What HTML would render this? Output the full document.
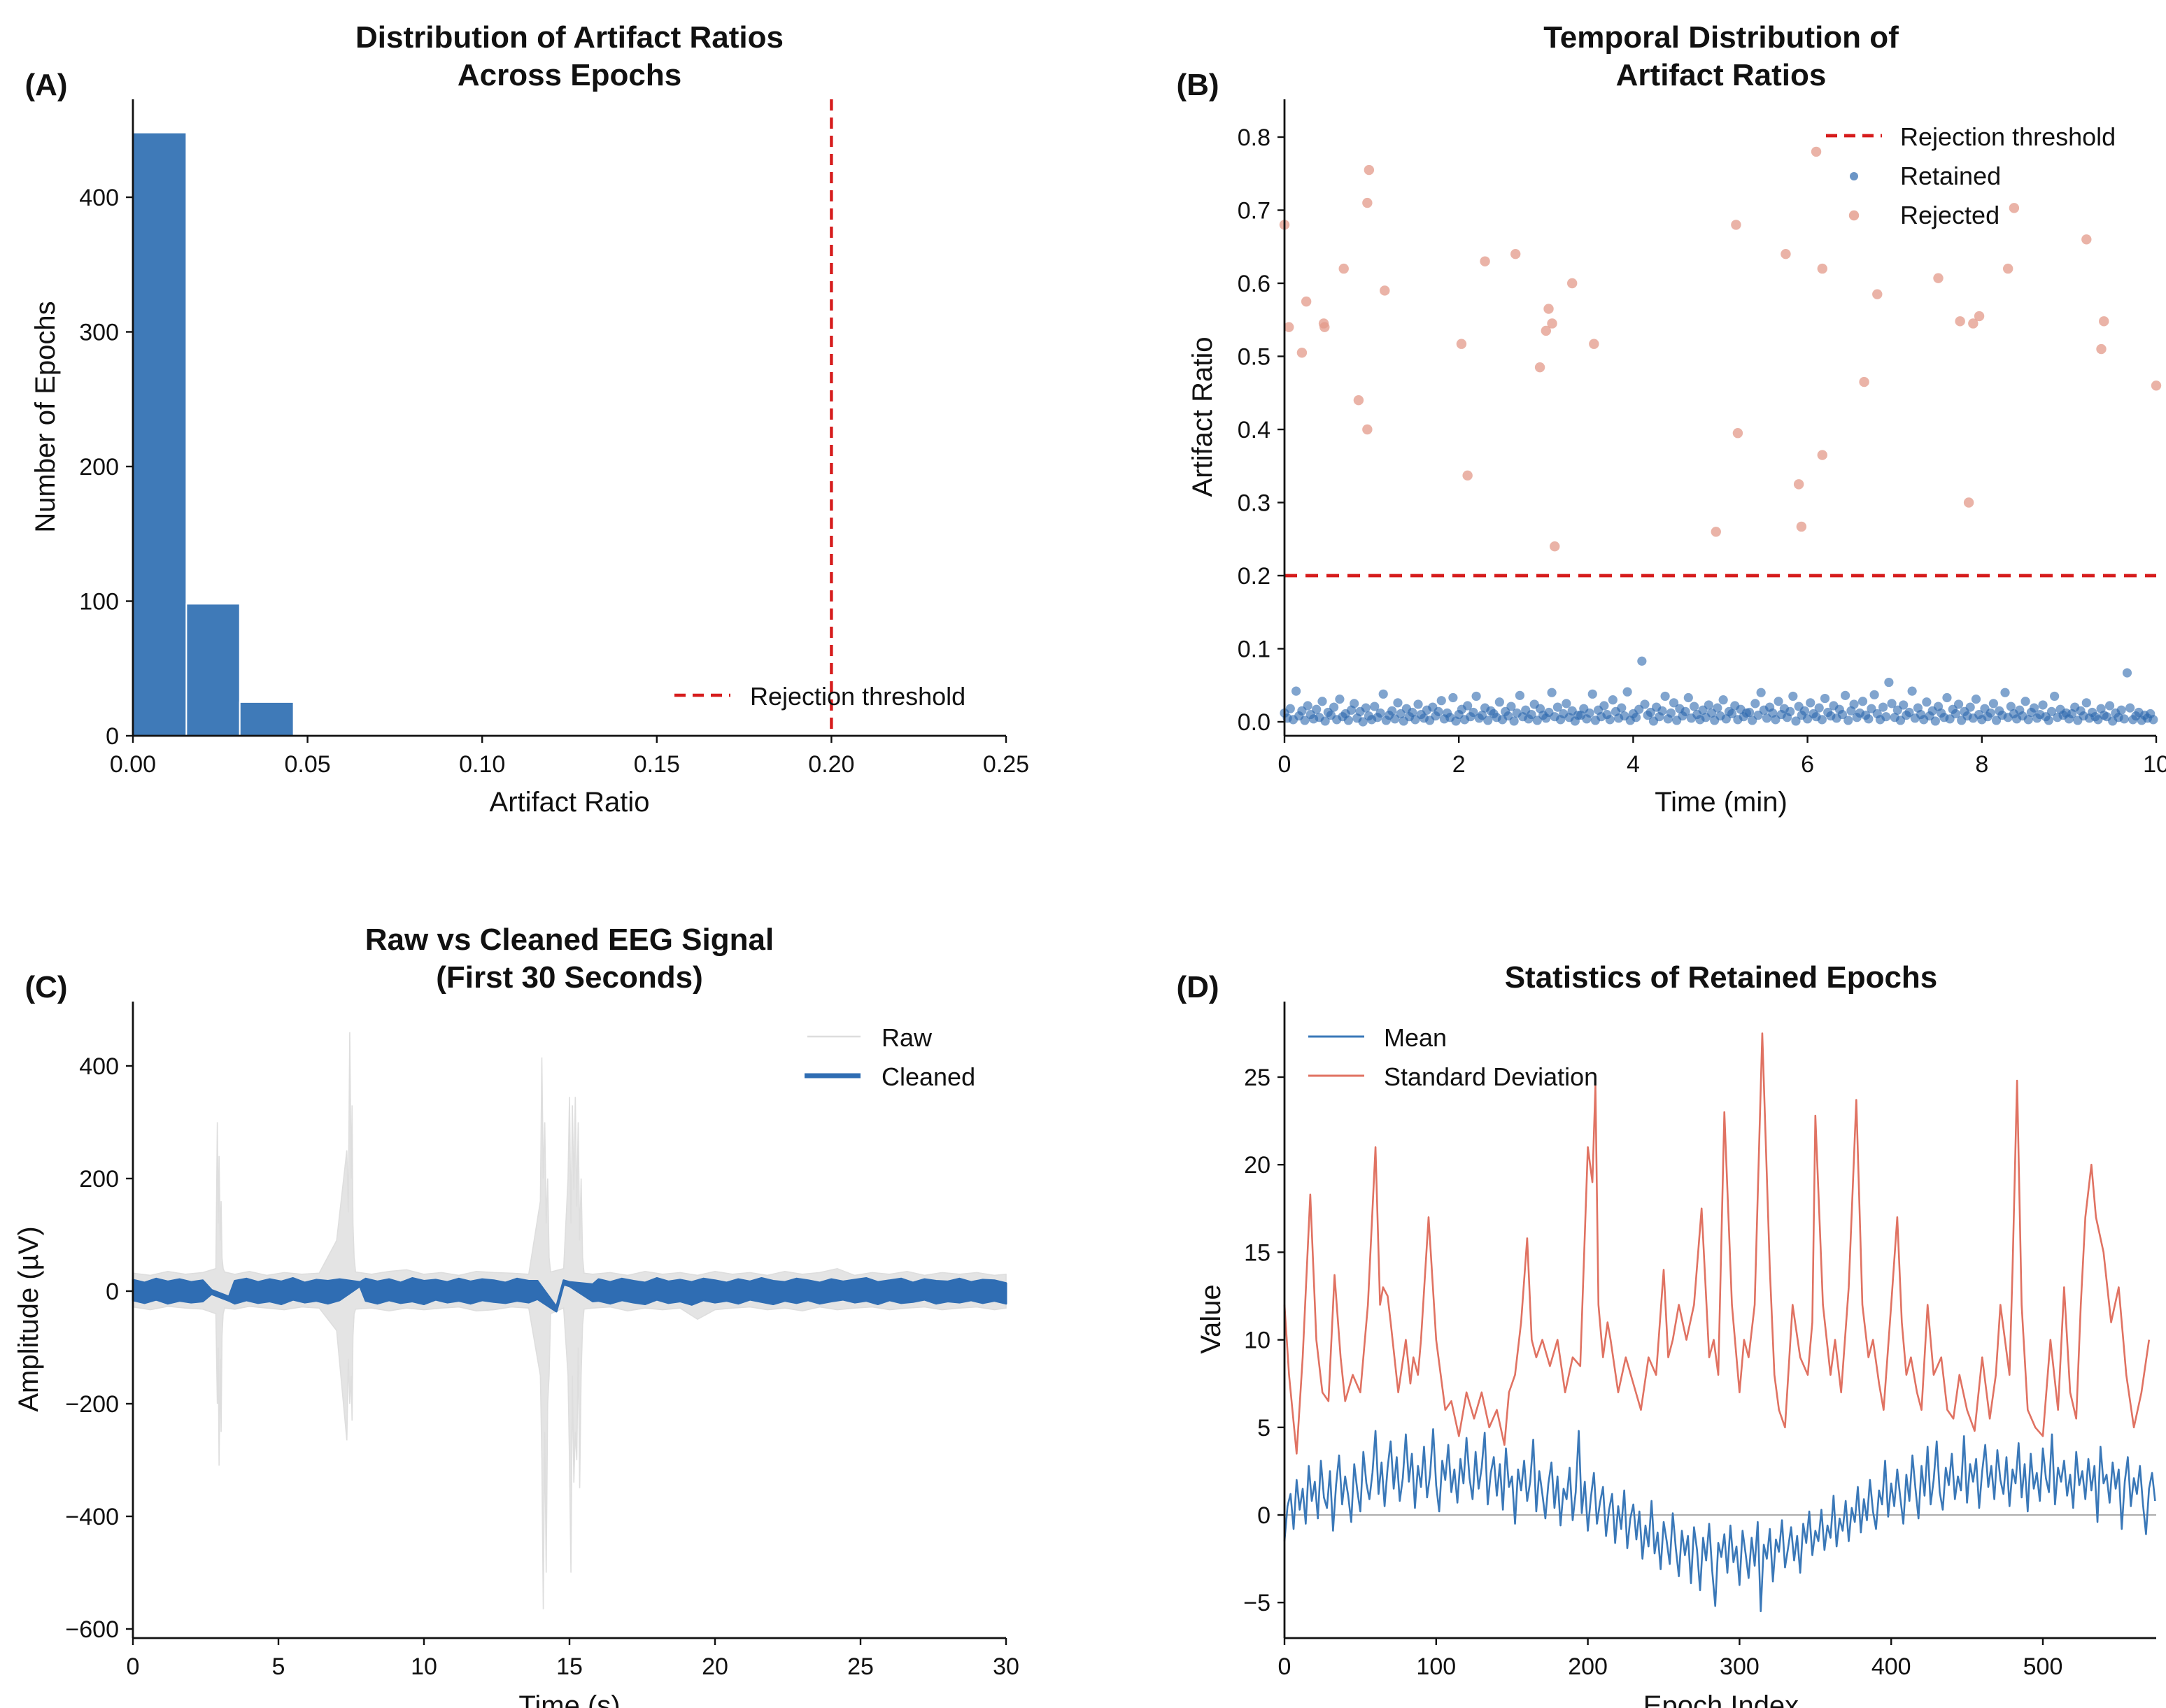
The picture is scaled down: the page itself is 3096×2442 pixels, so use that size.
<!DOCTYPE html>
<html><head><meta charset="utf-8"><style>
html,body{margin:0;padding:0;background:#fff}
svg{display:block}
text{font-family:"Liberation Sans","DejaVu Sans",sans-serif;fill:#111}
</style></head><body>
<svg id="fig" width="3096" height="2442" viewBox="0 0 1548 1221" xmlns="http://www.w3.org/2000/svg"></svg>
<script>
// ---------- Panel A data ----------
const histEdges = [0, 0.0153, 0.0306, 0.046];
const histCounts = [448, 98, 25];
const aXTicks = [0, 0.05, 0.10, 0.15, 0.20, 0.25];
const aXTickLabels = ["0.00","0.05","0.10","0.15","0.20","0.25"];
const aYTicks = [0, 100, 200, 300, 400];
const threshold = 0.2;
// ---------- Panel B data ----------
const retainedVals = [12,5,18,3,42,8,15,2,22,10,4,17,6,28,1,13,9,20,3,31,7,11,2,16,25,5,14,0,19,8,
3,21,6,12,38,2,9,15,4,26,11,1,18,7,13,3,24,10,5,16,2,20,8,14,29,4,12,6,33,1,
10,17,3,22,7,13,35,5,9,19,2,15,11,6,27,3,14,8,21,1,12,36,7,16,4,10,24,2,18,9,
5,13,40,7,20,3,11,25,6,15,1,9,9,18,4,12,38,2,16,7,22,10,3,30,14,5,19,8,41,2,
11,6,17,83,24,9,13,1,20,7,15,35,4,12,26,2,18,8,14,33,5,21,10,3,16,6,23,12,2,19,
8,30,4,14,11,22,3,17,7,12,13,2,25,9,40,16,5,20,12,3,28,10,18,6,14,35,1,21,9,15,
4,26,11,7,19,3,32,13,8,22,5,17,10,36,2,15,24,6,12,28,9,4,18,37,11,3,20,7,54,25,
6,16,2,23,9,13,42,5,19,10,3,27,8,15,1,21,12,6,33,4,17,11,24,2,14,8,20,5,31,10,
3,18,7,12,25,2,15,9,40,6,21,11,4,16,8,28,3,13,19,5,10,23,7,2,14,35,6,17,9,12,
4,11,20,2,15,8,26,5,13,7,3,18,9,7,22,1,12,6,16,4,67,19,3,8,13,2,9,5,11,3];
const retainedStepMin = 2/60;
const rejT = [0.0,0.05,0.2,0.25,0.45,0.46,0.68,0.85,0.95,0.97,0.95,1.15,2.03,2.1,2.3,2.65,2.93,3.0,3.03,3.07,3.1,3.3,3.55,4.95,5.18,5.2,5.75,5.9,5.93,6.1,6.17,6.17,6.65,6.8,7.5,7.75,7.85,7.9,7.97,8.3,8.37,9.2,9.37,9.4,10.0];
const rejR = [0.68,0.54,0.505,0.575,0.545,0.54,0.62,0.44,0.71,0.755,0.40,0.59,0.517,0.337,0.63,0.64,0.485,0.535,0.565,0.545,0.24,0.6,0.517,0.26,0.68,0.395,0.64,0.325,0.267,0.78,0.62,0.365,0.465,0.585,0.607,0.548,0.3,0.545,0.555,0.62,0.703,0.66,0.51,0.548,0.46];
const bXTicks = [0,2,4,6,8,10];
const bYTicks = [0,0.1,0.2,0.3,0.4,0.5,0.6,0.7,0.8];
// ---------- Panel C data ----------
const rawT = [0,0.6,1.2,1.8,2.4,2.85,2.9,2.93,2.96,3.0,3.03,3.06,3.1,3.15,3.5,4,4.6,5.2,5.8,6.4,7.0,7.35,7.4,7.45,7.5,7.53,7.56,7.6,7.65,8.2,8.8,9.4,10,10.6,11.2,11.8,12.4,13,13.6,14.0,14.05,14.1,14.15,14.2,14.25,14.3,14.35,14.8,14.95,15.0,15.05,15.1,15.15,15.2,15.25,15.3,15.35,15.4,15.45,15.5,15.8,16.4,17,17.6,18.2,18.8,19.4,20,20.6,21.2,21.8,22.4,23,23.6,24.2,24.8,25.4,26,26.6,27.2,27.8,28.4,29,29.6,30];
const rawHi = [32,28,35,30,33,40,300,120,240,90,160,60,40,34,30,35,28,33,30,32,90,250,140,460,200,330,120,60,34,30,35,38,30,33,28,35,33,32,30,160,415,200,300,120,200,60,34,40,200,345,120,330,180,345,150,300,90,200,60,32,30,33,28,35,30,33,28,35,30,33,28,35,30,33,40,28,33,30,35,28,33,30,33,28,30];
const rawLo = [-28,-33,-27,-30,-32,-40,-200,-100,-310,-120,-250,-80,-40,-30,-32,-27,-30,-33,-28,-30,-70,-265,-120,-200,-150,-230,-80,-40,-32,-30,-35,-30,-33,-30,-28,-35,-33,-28,-30,-150,-300,-565,-250,-500,-200,-150,-40,-30,-150,-300,-500,-150,-340,-250,-300,-100,-350,-150,-60,-32,-30,-28,-35,-30,-33,-30,-50,-33,-30,-28,-33,-30,-35,-28,-33,-30,-28,-33,-30,-28,-33,-30,-28,-33,-30];
const cT = [0,0.4,0.8,1.2,1.6,2.0,2.4,2.7,3.3,3.5,3.9,4.3,4.7,5.1,5.5,5.9,6.3,6.7,7.1,7.8,8.0,8.4,8.8,9.2,9.6,10,10.4,10.8,11.2,11.6,12,12.4,12.8,13.2,13.6,13.9,14.55,14.8,15.0,15.8,16.0,16.4,16.8,17.2,17.6,18,18.4,18.8,19.2,19.6,20,20.4,20.8,21.2,21.6,22,22.4,22.8,23.2,23.6,24,24.4,24.8,25.2,25.6,26,26.4,26.8,27.2,27.6,28,28.4,28.8,29.2,29.6,30];
const cHi = [20,15,22,17,21,16,19,2,-10,18,22,16,21,17,23,15,20,18,21,16,22,17,21,15,23,18,20,16,22,17,21,19,15,22,18,18,-28,19,16,12,21,16,22,18,15,23,17,20,16,22,19,15,21,17,23,18,16,22,19,15,21,17,20,23,16,19,22,15,21,18,17,22,16,20,19,14];
const cLo = [-16,-21,-15,-22,-17,-20,-18,-5,-17,-22,-16,-21,-18,-23,-15,-20,-17,-22,-16,9,-17,-22,-16,-21,-18,-23,-15,-20,-17,-22,-16,-19,-21,-17,-20,-14,-36,12,9,-18,-17,-22,-16,-20,-23,-15,-21,-18,-24,-16,-20,-17,-22,-15,-19,-23,-17,-21,-16,-22,-18,-15,-20,-17,-23,-16,-21,-19,-15,-22,-18,-20,-16,-21,-17,-22];
const cXTicks = [0,5,10,15,20,25,30];
const cYTicks = [-600,-400,-200,0,200,400];
const cYTickLabels = ["\u2212600","\u2212400","\u2212200","0","200","400"];
// ---------- Panel D data ----------
const meanStep = 2;
const meanVals = [-1.5,0.5,1.2,-0.8,2.0,0.3,1.5,-0.5,2.8,0.8,1.9,-0.2,3.1,1.0,0.4,2.5,-0.9,1.7,3.4,0.6,2.2,1.1,-0.4,2.9,1.4,0.2,3.6,1.8,0.9,
2.4,4.8,1.2,3.0,0.5,2.7,4.2,1.5,3.3,0.8,2.1,4.6,1.9,3.5,0.4,2.8,1.6,3.9,1.0,2.3,4.9,1.7,0.2,3.1,2.0,4.0,1.3,2.6,0.7,
3.2,1.8,4.4,2.1,0.9,3.6,1.5,2.7,4.7,0.6,2.4,3.3,1.1,2.9,0.3,3.8,1.6,2.2,-0.5,2.6,1.4,3.1,0.8,1.9,4.3,0.2,2.5,1.2,-0.2,
1.8,3.0,0.4,2.2,-0.6,1.5,0.9,2.7,-0.3,1.3,4.8,0.1,1.9,-0.9,1.0,2.4,-0.5,0.7,1.6,-1.2,0.3,1.2,-1.6,0.5,-0.8,1.4,-1.9,-0.2,0.6,
-1.4,0.2,-2.5,-0.6,-1.8,0.8,-2.2,-1.0,-3.1,-0.4,-1.5,-2.8,0.1,-1.9,-3.5,-0.9,-2.3,-1.2,-3.9,-0.7,-2.0,-4.3,-1.3,-2.6,-0.5,-3.2,-5.2,-1.6,-2.4,
-1.1,-3.3,-0.6,-2.7,-1.8,-4.0,-0.9,-2.2,-3.6,-1.3,-2.9,-0.4,-5.5,-1.7,-2.5,-0.8,-3.8,-1.4,-2.1,-0.3,-3.0,-1.9,-0.7,-2.6,-1.2,-3.3,-0.5,-1.6,0.2,
-2.3,-0.9,-1.5,0.3,-2.0,-0.6,-1.3,1.1,-1.8,-0.2,-0.9,0.8,-1.5,0.4,-0.4,1.6,-1.0,0.9,-0.3,2.0,0.2,-0.8,1.4,0.6,3.1,-0.1,1.8,0.5,2.6,
1.0,-0.5,2.3,0.8,3.4,1.5,-0.2,2.8,1.1,3.9,0.6,2.0,4.2,1.3,0.3,2.7,1.7,3.5,0.9,2.2,1.4,4.5,0.7,2.9,1.9,3.2,0.4,2.5,4.0,
1.6,2.8,0.9,3.7,2.0,1.2,3.3,0.5,2.6,1.8,4.1,1.0,2.9,0.2,3.5,1.5,2.4,0.8,3.8,2.1,1.3,4.6,0.6,2.7,1.9,3.1,1.1,2.3,0.4,
3.6,1.7,2.5,0.9,3.2,1.4,2.8,-0.4,3.9,1.8,2.3,0.7,3.0,1.5,2.6,-0.8,1.9,3.3,0.5,2.1,1.2,2.8,0.6,-1.1,1.5,2.4,0.8];
const stdE = [0,3,8,12,17,21,25,29,33,37,40,45,50,55,60,63,65,68,70,75,80,83,85,88,90,95,100,103,106,110,115,120,125,130,135,140,145,148,152,156,160,163,166,170,175,180,185,190,195,200,203,205,207,210,213,215,220,225,230,235,240,245,250,253,256,260,265,270,275,280,283,286,290,295,300,303,306,310,315,320,323,326,330,335,340,345,348,350,355,360,363,367,372,377,381,385,388,392,395,400,404,407,410,413,417,420,424,428,433,437,441,445,450,455,460,465,469,472,475,478,480,483,486,490,495,500,505,510,514,518,522,525,528,530,532,535,540,545,550,555,560,565,570,574];
const stdV = [12,8,3.5,9,18.3,10,7,6.5,13.7,9,6.5,8,7,12,21,12,13,12.5,11,7,10,7.5,9,8,10,17,10,8,6,6.5,4.5,7,5.5,7,5,6,4,7,8,11,15.8,10,9,10,8.5,10,7,9,8.5,21,19,24.5,12,9,11,10,7,9,7.5,6,9,8,14,9,10,12,10,12,17.5,9,10,8,23,12,7,10,9,12,27.5,14,8,6,5,12,9,8,11,22.8,12,8,10,7,13,23.7,12,9,10,7.5,6,12,17,11,8,9,7,6,12,8,9,6,5.5,8,6,4.8,9,5.5,8,12,10,8,14,24.8,12,6,5,4.5,10,6,13,7,5.5,12,17,18.5,20,17,15,11,13,8,5,7,10];
const dXTicks = [0,100,200,300,400,500];
const dYTicks = [-5,0,5,10,15,20,25];

const NS = "http://www.w3.org/2000/svg";
const svg = document.getElementById('fig');
function mk(tag, attrs, parent, txt){
  const e = document.createElementNS(NS, tag);
  for (const k in attrs) e.setAttribute(k, attrs[k]);
  if (txt !== undefined) e.textContent = txt;
  (parent || svg).appendChild(e);
  return e;
}
function lin(d0,d1,r0,r1){ return v => r0 + (v-d0)/(d1-d0)*(r1-r0); }

function axes(name, x0, x1, yTop, yBot, xs, xticks, xlabels, ys, yticks, ylabels){
  const g = mk('g', {});
  
  
  const yl = mk('line', {x1:x0, y1:yTop, x2:x0, y2:yBot, stroke:'#111', 'stroke-width':1.4}, g);
  
  
  const xl = mk('line', {x1:x0, y1:yBot, x2:x1, y2:yBot, stroke:'#111', 'stroke-width':1.4}, g);
  
  
  xticks.forEach((v,i) => {
    const x = xs(v);
    mk('line', {x1:x, y1:yBot, x2:x, y2:yBot+5, stroke:'#111', 'stroke-width':1.2}, g);
    const t = mk('text', {x:x, y:yBot+26, 'text-anchor':'middle', 'font-size':17}, g, xlabels[i]);
    
    
  });
  yticks.forEach((v,i) => {
    const y = ys(v);
    mk('line', {x1:x0-5, y1:y, x2:x0, y2:y, stroke:'#111', 'stroke-width':1.2}, g);
    const t = mk('text', {x:x0-10, y:y+6, 'text-anchor':'end', 'font-size':17}, g, ylabels[i]);
    
    
  });
}
function label(txt, x, y, opts, name){
  const t = mk('text', Object.assign({x:x, y:y, 'text-anchor':'middle'}, opts), svg, txt);
  
  
  return t;
}

// ===== Panel A =====
{
  const xs = lin(0,0.25,95,719), ys = lin(0,400,526,141);
  histCounts.forEach((c,i) => {
    const x0 = xs(histEdges[i]), x1 = xs(histEdges[i+1]);
    const r = mk('rect', {x:x0, y:ys(c), width:x1-x0, height:ys(0)-ys(c), fill:'#3f7ab8', stroke:'#ffffff', 'stroke-width':1});
    
    
  });
  const th = mk('line', {x1:xs(threshold), y1:71, x2:xs(threshold), y2:526, stroke:'#d61c1c', 'stroke-width':2.2, 'stroke-dasharray':'8,5'});
  
  
  axes('a', 95, 719, 71, 526, xs, aXTicks, aXTickLabels, ys, aYTicks, aYTicks.map(String));
  label('Distribution of Artifact Ratios', 407, 34, {'font-size':22,'font-weight':'bold'}, 'a-title-line1');
  label('Across Epochs', 407, 61, {'font-size':22,'font-weight':'bold'}, 'a-title-line2');
  label('(A)', 33, 68, {'font-size':22,'font-weight':'bold'}, 'a-panel-label');
  label('Artifact Ratio', 407, 580, {'font-size':20}, 'a-x-axis-title');
  label('Number of Epochs', 0, 0, {'font-size':20, transform:'translate(39,298) rotate(-90)'}, 'a-y-axis-title');
  const lg = mk('line', {x1:482, y1:497, x2:522, y2:497, stroke:'#d61c1c', 'stroke-width':2.2, 'stroke-dasharray':'8,5'});
  
  
  const lt = mk('text', {x:536, y:504, 'font-size':18}, svg, 'Rejection threshold');
  
  
}

// ===== Panel B =====
{
  const xs = lin(0,10,918,1541), ys = lin(0,0.8,516,98);
  retainedVals.forEach((v,i) => {
    const c = mk('circle', {cx:xs(i*retainedStepMin), cy:ys(v/1000), r:3.3, fill:'#2c68ae', 'fill-opacity':0.6});
    
    
  });
  rejT.forEach((t,i) => {
    const c = mk('circle', {cx:xs(t), cy:ys(rejR[i]), r:3.6, fill:'#e39a8a', 'fill-opacity':0.75});
    
    
  });
  const th = mk('line', {x1:918, y1:ys(threshold), x2:1541, y2:ys(threshold), stroke:'#d61c1c', 'stroke-width':2.4, 'stroke-dasharray':'9,6'});
  
  
  axes('b', 918, 1541, 71, 526, xs, bXTicks, bXTicks.map(String), ys, bYTicks, bYTicks.map(v=>v.toFixed(1)));
  label('Temporal Distribution of', 1230, 34, {'font-size':22,'font-weight':'bold'}, 'b-title-line1');
  label('Artifact Ratios', 1230, 61, {'font-size':22,'font-weight':'bold'}, 'b-title-line2');
  label('(B)', 856, 68, {'font-size':22,'font-weight':'bold'}, 'b-panel-label');
  label('Time (min)', 1230, 580, {'font-size':20}, 'b-x-axis-title');
  label('Artifact Ratio', 0, 0, {'font-size':20, transform:'translate(866,298) rotate(-90)'}, 'b-y-axis-title');
  const lg = mk('line', {x1:1305, y1:97, x2:1345, y2:97, stroke:'#d61c1c', 'stroke-width':2.4, 'stroke-dasharray':'8,5'});
  
  
  const m1 = mk('circle', {cx:1325, cy:126, r:3, fill:'#2c68ae', 'fill-opacity':0.7});
  
  
  const m2 = mk('circle', {cx:1325, cy:154, r:3.6, fill:'#e39a8a', 'fill-opacity':0.8});
  
  
  [['Rejection threshold',104,'b-legend-threshold-label'],['Retained',132,'b-legend-retained-label'],['Rejected',160,'b-legend-rejected-label']].forEach(a=>{
    const t = mk('text', {x:1358, y:a[1], 'font-size':18}, svg, a[0]);
    
    
  });
}

// ===== Panel C =====
{
  const xs = lin(0,30,95,719), ys = lin(0,400,923,762);
  const n = Math.min(rawT.length, rawHi.length, rawLo.length);
  let pts = [];
  for (let i=0;i<n;i++) pts.push(xs(rawT[i])+','+ys(rawHi[i]));
  for (let i=n-1;i>=0;i--) pts.push(xs(rawT[i])+','+ys(rawLo[i]));
  const raw = mk('polygon', {points:pts.join(' '), fill:'#e4e4e4', stroke:'#dedede', 'stroke-width':0.8});
  
  
  let cp = cT.map((t,i)=>xs(t)+','+ys(cHi[i]));
  for (let i=cT.length-1;i>=0;i--) cp.push(xs(cT[i])+','+ys(cLo[i]));
  const cl = mk('polygon', {points:cp.join(' '), fill:'#2f6db3', stroke:'#2f6db3', 'stroke-width':1.5, 'stroke-linejoin':'round'});
  
  
  axes('c', 95, 719, 716, 1171, xs, cXTicks, cXTicks.map(String), ys, cYTicks, cYTickLabels);
  label('Raw vs Cleaned EEG Signal', 407, 679, {'font-size':22,'font-weight':'bold'}, 'c-title-line1');
  label('(First 30 Seconds)', 407, 706, {'font-size':22,'font-weight':'bold'}, 'c-title-line2');
  label('(C)', 33, 713, {'font-size':22,'font-weight':'bold'}, 'c-panel-label');
  label('Time (s)', 407, 1226, {'font-size':20}, 'c-x-axis-title');
  label('Amplitude (\u00b5V)', 0, 0, {'font-size':20, transform:'translate(27,943) rotate(-90)'}, 'c-y-axis-title');
  const l1 = mk('line', {x1:577, y1:741, x2:615, y2:741, stroke:'#dddddd', 'stroke-width':1.2});
  
  
  const l2 = mk('line', {x1:575, y1:769, x2:615, y2:769, stroke:'#2f6db3', 'stroke-width':3.5});
  
  
  [['Raw',748,'c-legend-raw-label'],['Cleaned',776,'c-legend-cleaned-label']].forEach(a=>{
    const t = mk('text', {x:630, y:a[1], 'font-size':18}, svg, a[0]);
    
    
  });
}

// ===== Panel D =====
{
  const xs = lin(0,500,918,1460), ys = lin(0,25,1083,770);
  const z = mk('line', {x1:918, y1:ys(0), x2:1541, y2:ys(0), stroke:'#999', 'stroke-width':1, 'stroke-opacity':0.8});
  
  
  const n = Math.min(stdE.length, stdV.length);
  const sp = [];
  for (let i=0;i<n;i++) sp.push(xs(stdE[i])+','+ys(stdV[i]));
  const sl = mk('polyline', {points:sp.join(' '), fill:'none', stroke:'#e07262', 'stroke-width':1.3, 'stroke-linejoin':'round'});
  
  
  const mp = meanVals.map((v,i)=>xs(i*meanStep)+','+ys(v));
  const ml = mk('polyline', {points:mp.join(' '), fill:'none', stroke:'#3a78b8', 'stroke-width':1.3, 'stroke-linejoin':'round'});
  
  
  axes('d', 918, 1541, 716, 1171, xs, dXTicks, dXTicks.map(String), ys, dYTicks, dYTicks.map(v=>v<0?'\u2212'+(-v):String(v)));
  label('Statistics of Retained Epochs', 1230, 706, {'font-size':22,'font-weight':'bold'}, 'd-title');
  label('(D)', 856, 713, {'font-size':22,'font-weight':'bold'}, 'd-panel-label');
  label('Epoch Index', 1230, 1226, {'font-size':20}, 'd-x-axis-title');
  label('Value', 0, 0, {'font-size':20, transform:'translate(872,943) rotate(-90)'}, 'd-y-axis-title');
  const l1 = mk('line', {x1:935, y1:741, x2:975, y2:741, stroke:'#3a78b8', 'stroke-width':1.5});
  
  
  const l2 = mk('line', {x1:935, y1:769, x2:975, y2:769, stroke:'#e07262', 'stroke-width':1.5});
  
  
  [['Mean',748,'d-legend-mean-label'],['Standard Deviation',776,'d-legend-std-label']].forEach(a=>{
    const t = mk('text', {x:989, y:a[1], 'font-size':18}, svg, a[0]);
    
    
  });
}
</script>
</body></html>
